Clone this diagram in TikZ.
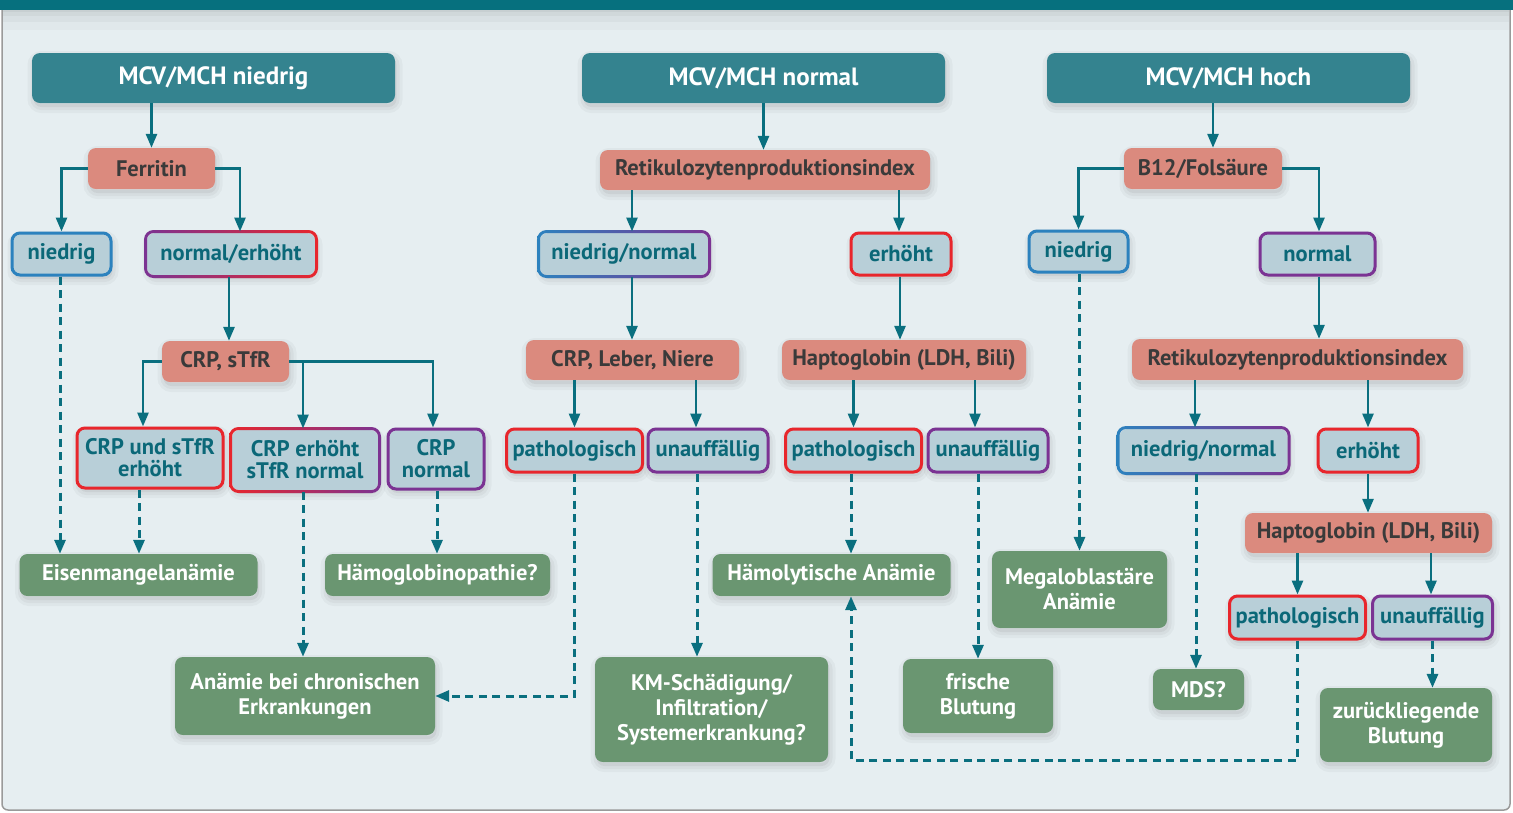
\documentclass[tikz,border=0pt]{standalone}
\usepackage{fontspec}
\setmainfont{PT Sans}
\usetikzlibrary{shadows,arrows.meta}
\definecolor{bgc}{HTML}{E6EEF1}
\definecolor{band}{HTML}{06707E}
\definecolor{hdrc}{HTML}{34838F}
\definecolor{salm}{HTML}{DB8A7E}
\definecolor{darktxt}{HTML}{3A3A3A}
\definecolor{lb}{HTML}{B8CFD8}
\definecolor{tealtxt}{HTML}{0B6878}
\definecolor{redb}{HTML}{E8262C}
\definecolor{purb}{HTML}{7B3393}
\definecolor{blub}{HTML}{2C82BE}
\definecolor{grn}{HTML}{6A9671}
\definecolor{conn}{HTML}{0A6F7F}
\definecolor{frame}{HTML}{9A9A9A}
\newcommand{\gring}[3]{%
  \shade[left color=#2, right color=#3, even odd rule, rounded corners=9.5pt]
    ([shift={(-1.5pt,1.5pt)}]#1.north west) rectangle ([shift={(1.5pt,-1.5pt)}]#1.south east)
    [rounded corners=6.5pt]
    ([shift={(1.5pt,-1.5pt)}]#1.north west) rectangle ([shift={(-1.5pt,1.5pt)}]#1.south east);}
\begin{document}
\begin{tikzpicture}[x=1pt,y=-1pt,
  softsh/.style={
    general shadow={shadow xshift=1.5pt, shadow yshift=-4pt, fill=black, fill opacity=0.05,
                    draw=black, draw opacity=0.03, line width=12pt},
    general shadow={shadow xshift=1.5pt, shadow yshift=-4pt,
                    draw=black, draw opacity=0.035, line width=6pt}},
  base/.style={rounded corners=8pt, align=center, inner sep=0pt,
    font=\bfseries\fontsize{22.5}{23}\selectfont, softsh},
  sz/.style 2 args={minimum width=#1pt, minimum height=#2pt},
  hdr/.style={base, fill=hdrc, text=white, font=\bfseries\fontsize{25}{28}\selectfont},
  test/.style={base, fill=salm, text=darktxt},
  res/.style={base, fill=lb, text=tealtxt, line width=3pt, font=\bfseries\fontsize{22.5}{22}\selectfont},
  rres/.style={res, draw=redb},
  pres/.style={res, draw=purb},
  bres/.style={res, draw=blub},
  gres/.style={res},
  outbox/.style={base, fill=grn, text=white, font=\bfseries\fontsize{22.5}{25}\selectfont},
  arr/.style={draw=conn, line width=2.7pt, -{Triangle[length=14pt,width=11pt]}},
  darr/.style={arr, line width=3pt, dash pattern=on 8pt off 5.5pt},
]
\useasboundingbox (0,0) rectangle (1513,812);
% frame
\fill[white] (0,0) rectangle (1513,812);
\draw[frame, fill=bgc, line width=1.5pt, rounded corners=6pt] (2,0) rectangle (1510,810);
\foreach \d/\o in {30/0.025,22/0.03,16/0.035,12/0.04} {
  \fill[black, fill opacity=\o] (3,10) rectangle (1509,\d);
}
\fill[band] (0,0) rectangle (1513,10);

% headers
\node[hdr, sz={363}{50}] (h1) at (213.5,78) {MCV/MCH niedrig};
\node[hdr, sz={363}{50}] (h2) at (763.5,78) {MCV/MCH normal};
\node[hdr, sz={363}{50}] (h3) at (1228.5,78) {MCV/MCH hoch};

% tests
\node[test, sz={127}{41}] (fer) at (151.5,168.5) {Ferritin};
\node[test, sz={330}{40}] (ret1) at (765,170) {Retikulozytenproduktionsindex};
\node[test, sz={158}{41}] (b12) at (1203,168.5) {B12/Folsäure};
\node[test, sz={127}{41}] (crps) at (225.5,361.5) {CRP, sTfR};
\node[test, sz={213}{40}] (cln) at (632.5,360) {CRP, Leber, Niere};
\node[test, sz={244}{40}] (hap1) at (904,360) {Haptoglobin (LDH, Bili)};
\node[test, sz={331}{41}] (ret2) at (1297.5,359.5) {Retikulozytenproduktionsindex};
\node[test, sz={247}{40}] (hap2) at (1368.5,533) {Haptoglobin (LDH, Bili)};

% results
\node[bres, sz={99}{42}] (n1) at (61.5,254) {niedrig};
\node[gres, sz={168}{42}] (ne1) at (231,254) {normal/erhöht};
\gring{ne1}{purb}{redb}
\node[gres, sz={168}{42}] (nn1) at (624,254) {niedrig/normal};
\gring{nn1}{blub}{purb}
\node[rres, sz={100}{42}] (e1) at (901,254) {erhöht};
\node[bres, sz={99}{41}] (n3) at (1078.5,251.5) {niedrig};
\node[pres, sz={115}{42}] (no3) at (1317.5,254) {normal};
\node[rres, sz={146}{60}] (cse) at (150,458) {CRP und sTfR\\erhöht};
\node[gres, sz={146}{60}] (ces) at (305,460) {CRP erhöht\\sTfR normal};
\gring{ces}{redb}{purb}
\node[pres, sz={96}{60}] (cn) at (436,459) {CRP\\normal};
\node[rres, sz={136}{43}] (p1) at (574.5,450.5) {pathologisch};
\node[pres, sz={120}{43}] (u1) at (708,450.5) {unauffällig};
\node[rres, sz={136}{43}] (p2) at (853.5,450.5) {pathologisch};
\node[pres, sz={120}{43}] (u2) at (988,450.5) {unauffällig};
\node[gres, sz={168}{43}] (nn3) at (1203.5,450.5) {niedrig/normal};
\gring{nn3}{blub}{purb}
\node[rres, sz={100}{43}] (e3) at (1368,450.5) {erhöht};
\node[rres, sz={136}{43}] (p3) at (1297.5,617.5) {pathologisch};
\node[pres, sz={120}{43}] (u3) at (1432.5,617.5) {unauffällig};

% outcomes
\node[outbox, sz={238}{42}] (eis) at (138.5,575) {Eisenmangelanämie};
\node[outbox, sz={225}{42}] (hgp) at (437.5,575) {Hämoglobinopathie?};
\node[outbox, sz={260}{78}] (acd) at (305,696) {Anämie bei chronischen\\Erkrankungen};
\node[outbox, sz={238}{42}] (haem) at (831.5,575) {Hämolytische Anämie};
\node[outbox, sz={233}{105}] (km) at (711.5,709.5) {KM-Schädigung/\\Infiltration/\\Systemerkrankung?};
\node[outbox, sz={175}{77}] (meg) at (1079.5,589.5) {Megaloblastäre\\Anämie};
\node[outbox, sz={150}{74}] (fb) at (978,696) {frische\\Blutung};
\node[outbox, sz={91}{41}] (mds) at (1198.5,689.5) {MDS?};
\node[outbox, sz={172}{74}] (zur) at (1406,725) {zurückliegende\\Blutung};

% solid connectors
\draw[arr] (h1.south -| fer.north) -- (fer.north);
\draw[arr] (h2.south) -- (h2.south |- ret1.north);
\draw[arr] (h3.south -| 1213,0) -- (b12.north -| 1213,0);
\draw[arr] (fer.west) -| (n1.north);
\draw[arr] (fer.east) -| ([xshift=9pt]ne1.north);
\draw[arr] (ne1.south -| 229,0) -- (crps.north -| 229,0);
\draw[arr] (crps.west) -| ([xshift=-7pt]cse.north);
\draw[arr] (crps.east -| 303,0) -- (ces.north -| 303,0);
\draw[arr] (crps.east) -| ([xshift=-3pt]cn.north);
\draw[arr] (ret1.south -| 632,0) -- (nn1.north -| 632,0);
\draw[arr] (ret1.south -| 899,0) -- (e1.north -| 899,0);
\draw[arr] (nn1.south -| 632,0) -- (cln.north -| 632,0);
\draw[arr] (e1.south -| 900,0) -- (hap1.north -| 900,0);
\draw[arr] (cln.south -| p1.north) -- (p1.north);
\draw[arr] (cln.south -| 696,0) -- (u1.north -| 696,0);
\draw[arr] (hap1.south -| p2.north) -- (p2.north);
\draw[arr] (hap1.south -| 975,0) -- (u2.north -| 975,0);
\draw[arr] (b12.west) -| (n3.north);
\draw[arr] (b12.east) -| ([xshift=1.5pt]no3.north);
\draw[arr] (no3.south -| 1319,0) -- (ret2.north -| 1319,0);
\draw[arr] (ret2.south -| 1195,0) -- (nn3.north -| 1195,0);
\draw[arr] (ret2.south -| e3.north) -- (e3.north);
\draw[arr] (e3.south) -- (e3.south |- hap2.north);
\draw[arr] (hap2.south -| p3.north) -- (p3.north);
\draw[arr] (hap2.south -| 1431,0) -- (u3.north -| 1431,0);

% dashed connectors
\draw[darr] (n1.south -| 60,0) -- (eis.north -| 60,0);
\draw[darr] (cse.south -| 139,0) -- (eis.north -| 139,0);
\draw[darr] (ces.south -| 303,0) -- (acd.north -| 303,0);
\draw[darr] (cn.south -| 437,0) -- (hgp.north -| 437,0);
\draw[darr] (p1.south) |- (acd.east);
\draw[darr] (u1.south -| 697,0) -- (km.north -| 697,0);
\draw[darr] (p2.south -| 851,0) -- (haem.north -| 851,0);
\draw[darr] (u2.south -| fb.north) -- (fb.north);
\draw[darr] (n3.south -| meg.north) -- (meg.north);
\draw[darr] (nn3.south -| 1196,0) -- (mds.north -| 1196,0);
\draw[darr] (p3.south) -- (p3.south |- 0,760) -| (haem.south -| 851,0);
\draw[darr] (u3.south) -- (u3.south |- zur.north);
\end{tikzpicture}
\end{document}
